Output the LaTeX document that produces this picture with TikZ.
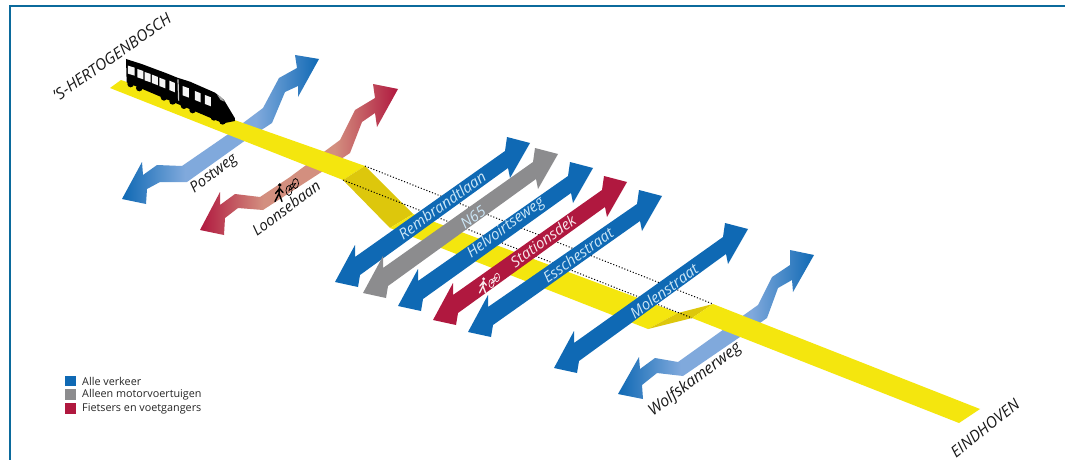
\documentclass[tikz,border=0pt]{standalone}
\usepackage{fontspec}
\setmainfont{Open Sans}
\definecolor{framec}{HTML}{0B6A9C}
\definecolor{roadblue}{HTML}{0F69B4}
\definecolor{roadgray}{HTML}{8C8C8E}
\definecolor{roadred}{HTML}{B0183F}
\definecolor{fadeblue}{HTML}{80A9DC}
\definecolor{fadered}{HTML}{D38F7F}
\definecolor{railyellow}{HTML}{F4E60E}
\definecolor{rampyellow}{HTML}{DDC70C}
\definecolor{lightlabel}{HTML}{CBE6F6}
\pgfdeclarehorizontalshading{bluefade}{100bp}{color(0bp)=(roadblue); color(25bp)=(roadblue); color(41bp)=(fadeblue); color(59bp)=(fadeblue); color(75bp)=(roadblue); color(100bp)=(roadblue)}
\pgfdeclarehorizontalshading{redfade}{100bp}{color(0bp)=(roadred); color(25bp)=(roadred); color(41bp)=(fadered); color(59bp)=(fadered); color(75bp)=(roadred); color(100bp)=(roadred)}
\newcommand\dblarrow[5]{%
  \fill[#1] ({#2},{#3}) -- ({#2+20},{#3-37}) -- ({#2+20},{#3-25}) -- ({#4-25},{#5+8}) -- ({#4-23},{#5-6}) -- (#4,#5) -- ({#4-20},{#5+35}) -- ({#4-22},{#5+25}) -- ({#2+25},{#3-7}) -- ({#2+23},{#3+5}) -- cycle;}
\newcommand\walkbike[4]{%
  \begin{scope}[shift={(#2,#3)},scale=#4]
    \fill[#1] (-12.2,-8.5) circle (1.9);
    \draw[#1,line width=1.4,line cap=round,line join=round] (-12.5,-6) -- (-13,0) -- (-10,8) (-13,0) -- (-17,8) (-12.5,-5) -- (-16.5,0) (-12.5,-5) -- (-9,-1);
    \draw[#1,line width=0.7] (-3,-3) ellipse (3 and 5) (3.5,-10) ellipse (3 and 5);
    \draw[#1,line width=0.7] (-3,-3) -- (-1,-9) -- (3.5,-10) -- (0,-5) -- cycle;
  \end{scope}}
\tikzset{
  railstrip/.style={fill=railyellow},
  rampstrip/.style={fill=rampyellow},
  trackline/.style={dash pattern=on 1.1pt off 1.9pt,line width=1pt,black},
  roadlabel/.style={font=\itshape\fontsize{15}{15}\selectfont,inner sep=0pt,text=lightlabel,rotate=36},
  sidelabel/.style={font=\itshape\fontsize{15}{15}\selectfont,inner sep=0pt,text=black!90,rotate=37},
  citylabel/.style={font=\itshape\fontsize{15.6}{15.6}\selectfont,inner sep=0pt,text=black!90},
  legendtext/.style={font=\fontsize{10.8}{10.8}\selectfont,anchor=west,inner sep=0pt,text=black!85},
  legendbox/.style={minimum size=10.5pt,inner sep=0pt,draw=none},
}
\begin{document}
\begin{tikzpicture}[x=1pt,y=-1pt]
\useasboundingbox (0,0) rectangle (1065,460);
\fill[white] (0,0) rectangle (1065,460);
\draw[framec,line width=2pt] (9.5,460) -- (9.5,6.5) -- (1065,6.5);

% curved roads beneath the rail
\path[shading=bluefade] (319,59) -- (295,55) -- (297,68) -- (279,78) -- (263,108) -- (227,135) -- (182,166) -- (157,165) -- (143,175) -- (142,162) -- (122,199) -- (146,204) -- (147,189) -- (160,182) -- (187,182) -- (243,142) -- (272,123) -- (285,92) -- (298,86) -- (298,97) -- cycle;
\path[shading=redfade] (398,89) -- (373,84) -- (375,98) -- (355,110) -- (340,140) -- (290,177) -- (260,197) -- (235,194) -- (220,205) -- (220,192) -- (200,230) -- (224,235) -- (225,218) -- (238,208) -- (263,210) -- (320,173) -- (350,153) -- (362,122) -- (375,113) -- (377,127) -- cycle;
\path[shading=bluefade] (814,255) -- (790,250) -- (790,265) -- (772,277) -- (758,305) -- (720,332) -- (678,362) -- (655,358) -- (640,369) -- (639,357) -- (618,394) -- (643,399) -- (642,385) -- (657,373) -- (683,376) -- (740,337) -- (767,318) -- (778,288) -- (792,280) -- (793,292) -- cycle;

% rail
\path[railstrip] (110,88) -- (121,80) -- (365,166) -- (343,180) -- cycle;
\path[rampstrip] (365,166) -- (413,214) -- (390,228) -- (343,180) -- cycle;
\path[railstrip] (413,214) -- (678,313) -- (648,329) -- (390,228) -- cycle;
\path[rampstrip] (648,329) -- (678,313) -- (713,304) -- (692,318) -- cycle;
\path[railstrip] (713,304) -- (980,409) -- (959,423) -- (692,318) -- cycle;
\coordinate (ta) at (365,166); \coordinate (tb) at (713,304);
\coordinate (tc) at (343,180); \coordinate (td) at (692,318);
\draw[trackline] (ta) -- (tb);
\draw[trackline] (tc) -- (td);

% train
\begin{scope}[shift={(100,50)},scale=0.3333]
  \fill[black] (78,27) -- (125,42) -- (200,70) -- (232,83) -- (270,95) -- (345,128) -- (372,150) -- (405,205) -- (405,213) -- (370,220) -- (80,97) -- cycle;
  \foreach \wx/\wy in {92/102,118/114,192/142,218/154,252/167,278/180,342/202,368/214}
    \fill[black] (\wx,\wy) circle (10);
  \foreach \ax/\ay/\bx/\by/\h in {84/47/104/53/24,112/57/130/63/25,134/66/152/72/25,156/74/174/81/25,178/83/196/90/25,208/92/225/99/28,248/108/267/115/28,285/123/302/130/27,315/135/333/142/27}
    \fill[white!92!gray] (\ax,\ay) -- (\bx,\by) -- (\bx,\by+\h) -- (\ax,\ay+\h) -- cycle;
  \draw[white!80!black,line width=1.2] (234,88) -- (236,152);
  \fill[white!65!black] (352,135) -- (362,140) -- (374,155) -- (362,150) -- cycle;
\end{scope}

% straight roads
\dblarrow{roadblue}{335}{282}{530}{143}
\dblarrow{roadgray}{363}{293}{558}{154}
\dblarrow{roadblue}{398}{306}{593}{168}
\dblarrow{roadred}{433}{320}{627}{182}
\dblarrow{roadblue}{468}{332}{662}{196}
\dblarrow{roadblue}{554}{368}{748}{229}

% road labels
\node[roadlabel] (rembrandt) at (442,205) {Rembrandtlaan};
\node[roadlabel] (nsixtyfive) at (473,217) {N65};
\node[roadlabel] (helvoirt) at (506,228) {Helvoirtseweg};
\node[roadlabel,text=white!90!roadred] (stations) at (543,241) {Stationsdek};
\node[roadlabel] (essche) at (578,255) {Esschestraat};
\node[roadlabel] (molen) at (664,291) {Molenstraat};
\node[sidelabel] (postweg) at (214,174) {Postweg};
\node[sidelabel] (loonse) at (286,208) {Loonsebaan};
\node[sidelabel,font=\itshape\fontsize{16}{16}\selectfont] (wolfs) at (695,380) {Wolfskamerweg};
\node[citylabel,rotate=35] (shertogen) at (112,57) {'S-HERTOGENBOSCH};
\node[citylabel,rotate=39] (eindhoven) at (985,428) {EINDHOVEN};

% icons
\walkbike{black}{292}{193.5}{1}
\walkbike{white!90!roadred}{494}{286}{0.85}

% legend
\node[legendbox,fill=roadblue] (lega) at (70.5,381) {};
\node[legendbox,fill=roadgray] (legb) at (70.5,394.5) {};
\node[legendbox,fill=roadred] (legc) at (70.5,408.5) {};
\node[legendtext] (legat) at (82,381) {Alle verkeer};
\node[legendtext] (legbt) at (82,395) {Alleen motorvoertuigen};
\node[legendtext] (legct) at (82,409) {Fietsers en voetgangers};
\end{tikzpicture}
\end{document}
